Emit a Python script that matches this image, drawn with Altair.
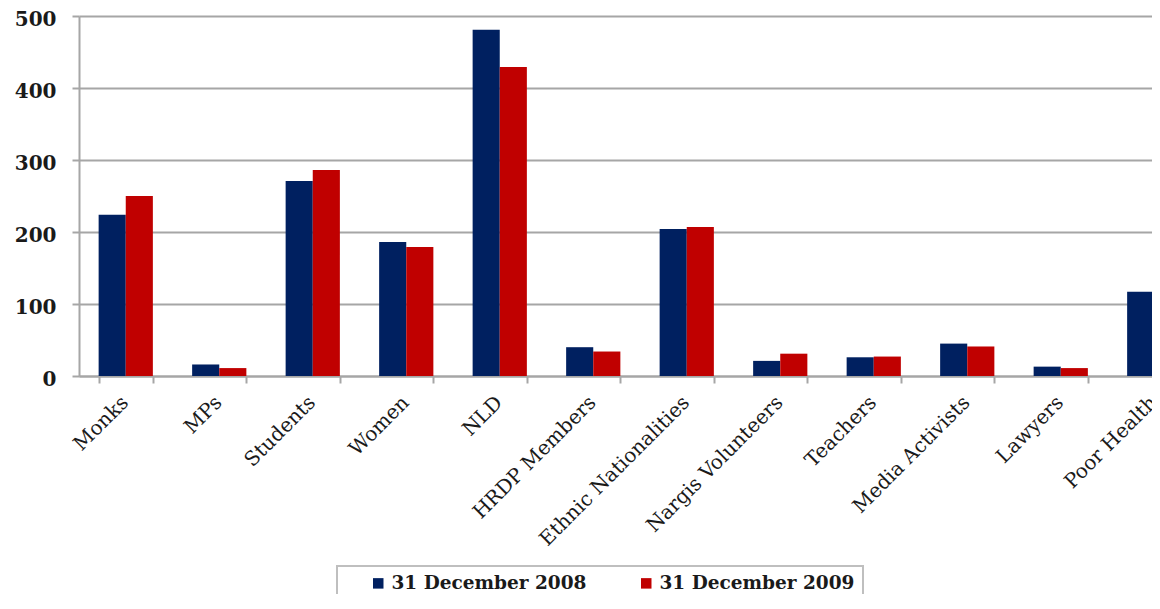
import altair as alt
import pandas as pd

categories = ["Monks", "MPs", "Students", "Women", "NLD", "HRDP Members",
              "Ethnic Nationalities", "Nargis Volunteers", "Teachers",
              "Media Activists", "Lawyers", "Poor Health"]
series = ["31 December 2008", "31 December 2009"]
values_2008 = [224, 16, 271, 186, 481, 40, 204, 21, 26, 45, 13, 117]
values_2009 = [250, 11, 286, 179, 429, 34, 207, 31, 27, 41, 11, 129]
y_ticks = [0, 100, 200, 300, 400, 500]
colors = ["#002060", "#C00000"]

rows = []
for c, a, b in zip(categories, values_2008, values_2009):
    rows.append({"category": c, "series": series[0], "value": a})
    rows.append({"category": c, "series": series[1], "value": b})
df = pd.DataFrame(rows)

grey = "#a6a6a6"

chart = alt.Chart(df).mark_bar().encode(
    x=alt.X("category:N", sort=categories, title=None,
            scale=alt.Scale(paddingInner=0.42, paddingOuter=0.21, range=[0, 1122]),
            axis=alt.Axis(labelAngle=-45, labelFont="DejaVu Serif", labelFontSize=20,
                          labelColor="#1a1a1a", tickBand="extent", tickSize=7,
                          tickColor=grey, tickWidth=2, domainColor=grey, domainWidth=2,
                          labelPadding=9, labelOffset=-8, grid=False, labelLimit=400)),
    xOffset=alt.XOffset("series:N", sort=series),
    y=alt.Y("value:Q", title=None,
            scale=alt.Scale(domain=[0, 500], nice=False),
            axis=alt.Axis(values=y_ticks, labelFont="DejaVu Serif", labelFontWeight="bold",
                          labelFontSize=20, labelColor="#1a1a1a", labelPadding=16,
                          labelOffset=3,
                          tickSize=7, tickColor=grey, tickWidth=2,
                          domainColor=grey, domainWidth=2,
                          grid=True, gridColor=grey, gridWidth=2)),
    color=alt.Color("series:N", sort=series,
                    scale=alt.Scale(domain=series, range=colors),
                    legend=alt.Legend(title=None, orient="none", direction="horizontal",
                                      legendX=258, legendY=550, strokeColor="#bfbfbf",
                                      padding=8, symbolOffset=24,
                                      symbolType="square", symbolSize=110,
                                      symbolStrokeWidth=0, columnPadding=26,
                                      labelFont="DejaVu Serif", labelFontWeight="bold",
                                      labelFontSize=18.5, labelColor="#1a1a1a",
                                      labelLimit=400)),
).properties(
    width=1073, height=360,
    padding={"left": 71, "top": 8, "right": 0, "bottom": 218},
    autosize=alt.AutoSizeParams(type="none"),
).configure_view(stroke=None).configure_legend(strokeWidth=2)

chart.save("out.html", embed_options={"renderer": "svg", "actions": False})
